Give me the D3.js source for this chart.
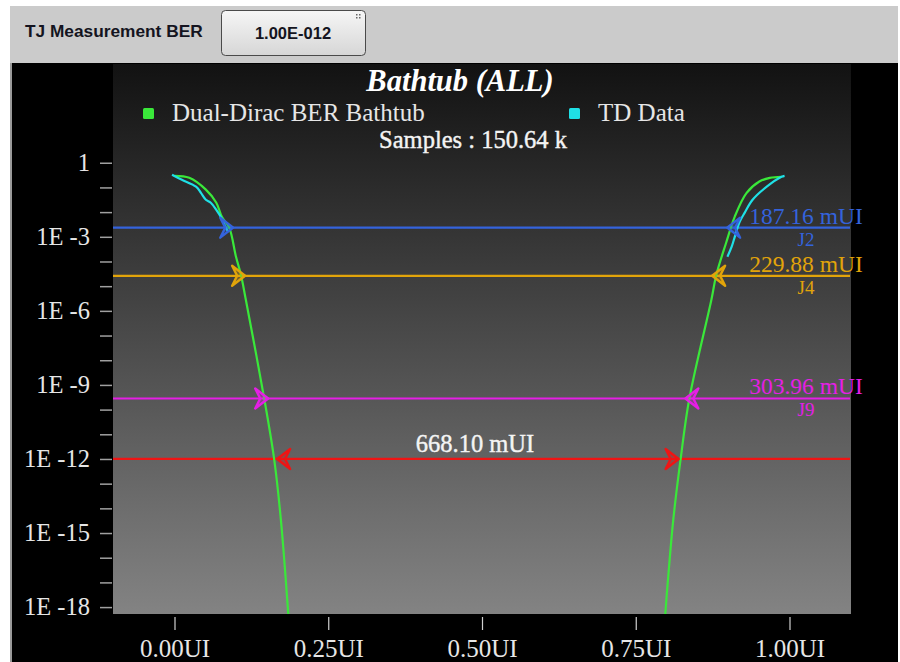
<!DOCTYPE html>
<html><head><meta charset="utf-8">
<script src="https://cdn.jsdelivr.net/npm/d3@7"></script>
<style>html,body{margin:0;padding:0;background:#fff;overflow:hidden}</style>
</head><body>
<svg id="c" width="900" height="662"></svg>
<script>
// ---------------- data ----------------
const xTickValues = [0, 0.25, 0.5, 0.75, 1.0];
const xTickLabels = ["0.00UI", "0.25UI", "0.50UI", "0.75UI", "1.00UI"];
const yMajorTicks = [0, -3, -6, -9, -12, -15, -18];
const yMajorLabels = ["1", "1E -3", "1E -6", "1E -9", "1E -12", "1E -15", "1E -18"];
const yMinorTicks = [-1, -2, -4, -5, -7, -8, -10, -11, -13, -14, -16, -17];

// [UI, log10(BER)]
const dualDiracLeft = [[0.000,-0.53],[0.024,-0.61],[0.051,-1.09],[0.068,-1.62],[0.077,-2.19],[0.089,-2.63],[0.100,-3.81],[0.108,-4.54],[0.116,-5.55],[0.146,-9.57],[0.162,-12.0],[0.173,-14.47],[0.185,-18.28]];
const dualDiracRight = [[0.987,-0.57],[0.968,-0.61],[0.951,-0.76],[0.930,-1.23],[0.911,-2.18],[0.897,-3.24],[0.881,-4.54],[0.873,-5.55],[0.837,-9.57],[0.823,-12.0],[0.811,-14.47],[0.798,-18.28]];
const tdLeft = [[-0.004,-0.49],[0.012,-0.69],[0.035,-0.97],[0.043,-1.22],[0.051,-1.50],[0.059,-1.62],[0.068,-1.91],[0.076,-2.23],[0.082,-2.55],[0.087,-2.80]];
const tdRight = [[0.992,-0.53],[0.987,-0.57],[0.963,-0.97],[0.940,-1.50],[0.927,-2.03],[0.919,-2.39],[0.911,-3.00],[0.906,-3.40],[0.899,-3.81]];

const levelNames = ["J2", "J4", "J9", ""];
const levelLogBER = [-2.63, -4.58, -9.55, -12.0];
const levelValues = ["187.16 mUI", "229.88 mUI", "303.96 mUI", "668.10 mUI"];
const levelColors = ["#3463dc", "#e2a40a", "#e51fe5", "#f01414"];

const legendNames = ["Dual-Dirac BER Bathtub", "TD Data"];
const titleText = "Bathtub (ALL)";
const samplesText = "Samples : 150.64 k";
const headerLabel = "TJ Measurement BER";
const headerValue = "1.00E-012";

// ---------------- drawing ----------------
const svg = d3.select("#c");
const serif = "'Liberation Serif','Times New Roman',serif";
const sans = "'Liberation Sans',Arial,sans-serif";

// header
svg.append("rect").attr("x", 10).attr("y", 6).attr("width", 888).attr("height", 58).attr("fill", "#cbcbcb");
svg.append("rect").attr("x", 10).attr("y", 63).attr("width", 888).attr("height", 599).attr("fill", "#000");
svg.append("rect").attr("x", 10).attr("y", 63).attr("width", 2).attr("height", 599).attr("fill", "#9a9a9a");
svg.append("text").attr("x", 25).attr("y", 37).attr("font-family", sans).attr("font-weight", "bold")
  .attr("font-size", 17.3).attr("fill", "#141420").text(headerLabel);

const defs = svg.append("defs");
const bg = defs.append("linearGradient").attr("id", "btn").attr("x1", 0).attr("y1", 0).attr("x2", 0).attr("y2", 1);
bg.append("stop").attr("offset", 0).attr("stop-color", "#f6f6f6");
bg.append("stop").attr("offset", 1).attr("stop-color", "#d6d6d6");
svg.append("rect").attr("x", 221.5).attr("y", 10.5).attr("width", 144).attr("height", 45).attr("rx", 4)
  .attr("fill", "url(#btn)").attr("stroke", "#4a4a4a").attr("stroke-width", 1);
svg.append("text").attr("x", 293).attr("y", 39).attr("text-anchor", "middle").attr("font-family", sans)
  .attr("font-weight", "bold").attr("font-size", 16.5).attr("fill", "#141420").text(headerValue);
[[356,14],[359,14],[356,17],[359,17]].forEach(p => svg.append("rect").attr("x", p[0]).attr("y", p[1]).attr("width", 1.5).attr("height", 1.5).attr("fill", "#666"));

// plot area
const plotL = 113, plotR = 851, plotT = 64, plotB = 614;
const x = d3.scaleLinear().domain([-0.1, 1.1]).range([plotL, plotR]);
const y = d3.scaleLinear().domain([4, -18.28]).range([plotT, plotB]);

const pg = defs.append("linearGradient").attr("id", "plotbg").attr("x1", 0).attr("y1", 0).attr("x2", 0).attr("y2", 1);
pg.append("stop").attr("offset", 0).attr("stop-color", "#121212");
pg.append("stop").attr("offset", 1).attr("stop-color", "#838383");
svg.append("rect").attr("x", plotL).attr("y", plotT).attr("width", plotR - plotL).attr("height", plotB - plotT)
  .attr("fill", "url(#plotbg)");

// y axis
const yAxis = d3.axisLeft(y).tickValues(yMajorTicks.concat(yMinorTicks)).tickSize(12).tickPadding(10)
  .tickFormat(d => { const i = yMajorTicks.indexOf(d); return i >= 0 ? yMajorLabels[i] : ""; });
const gy = svg.append("g").attr("transform", `translate(${plotL - 1},0)`).call(yAxis);
gy.select(".domain").remove();
gy.selectAll(".tick line").attr("stroke", "#a0a0a0").attr("stroke-width", 1.5);
gy.selectAll(".tick text").attr("font-family", serif).attr("font-size", 24.5).attr("fill", "#e6e6e6");

// x axis
const xAxis = d3.axisBottom(x).tickValues(xTickValues).tickSize(13).tickPadding(9)
  .tickFormat((d, i) => xTickLabels[i]);
const gx = svg.append("g").attr("transform", `translate(0,${plotB + 3})`).call(xAxis);
gx.select(".domain").remove();
gx.selectAll(".tick line").attr("stroke", "#d0d0d0").attr("stroke-width", 1.2);
gx.selectAll(".tick text").attr("font-family", serif).attr("font-size", 25).attr("fill", "#e6e6e6");

// title & legend
svg.append("text").attr("x", 460).attr("y", 91).attr("text-anchor", "middle").attr("font-family", serif)
  .attr("font-weight", "bold").attr("font-style", "italic").attr("font-size", 30.5).attr("fill", "#fff").text(titleText);
const legendColors = ["#3ae83a", "#1fe0e6"];
const legendX = [143, 569];
legendNames.forEach((n, i) => {
  svg.append("rect").attr("x", legendX[i]).attr("y", 108).attr("width", 11).attr("height", 11).attr("rx", 1.5).attr("fill", legendColors[i]);
  svg.append("text").attr("x", legendX[i] + 29).attr("y", 121).attr("font-family", serif).attr("font-size", 25)
    .attr("fill", "#e6e6e6").text(n);
});
svg.append("text").attr("x", 473).attr("y", 148).attr("text-anchor", "middle").attr("font-family", serif)
  .attr("font-size", 24.5).attr("fill", "#f4f4f4").attr("stroke", "#f4f4f4").attr("stroke-width", 0.4).text(samplesText);

// level lines
levelLogBER.forEach((v, i) => {
  svg.append("line").attr("x1", plotL).attr("x2", plotR - 1).attr("y1", y(v)).attr("y2", y(v))
    .attr("stroke", levelColors[i]).attr("stroke-width", 2.2);
});

// curves
const line = d3.line().x(d => x(d[0])).y(d => y(d[1])).curve(d3.curveCatmullRom.alpha(0.5));
[[dualDiracLeft, "#3ae83a"], [dualDiracRight, "#3ae83a"], [tdLeft, "#1fe0e6"], [tdRight, "#1fe0e6"]].forEach(c => {
  svg.append("path").attr("d", line(c[0])).attr("fill", "none").attr("stroke", c[1]).attr("stroke-width", 2.2);
});

// crossings
function crossAt(curve, L) {
  for (let i = 0; i < curve.length - 1; i++) {
    const a = curve[i], b = curve[i + 1];
    if ((a[1] - L) * (b[1] - L) <= 0) {
      const t = (L - a[1]) / (b[1] - a[1]);
      return a[0] + t * (b[0] - a[0]);
    }
  }
  return null;
}
const arrowPath = "M0,0 L-13,-10 L-8,0 L-13,10 Z";
function arrow(px, py, dir, color) {
  svg.append("path").attr("d", arrowPath)
    .attr("transform", `translate(${px},${py}) scale(${dir},1)`)
    .attr("fill", color).attr("fill-opacity", 0.35).attr("stroke", color).attr("stroke-width", 2.4)
    .attr("stroke-linejoin", "round");
}
levelLogBER.forEach((v, i) => {
  const xl = x(crossAt(dualDiracLeft, v));
  const xr = x(crossAt(dualDiracRight, v));
  const yy = y(v);
  if (i < 3) {
    arrow(xl + 4, yy, 1, levelColors[i]);
    arrow(xr - 4, yy, -1, levelColors[i]);
    svg.append("text").attr("x", 806).attr("y", yy - 4).attr("text-anchor", "middle").attr("font-family", serif)
      .attr("font-size", 23.5).attr("fill", levelColors[i]).text(levelValues[i]);
    svg.append("text").attr("x", 806).attr("y", yy + 18).attr("text-anchor", "middle").attr("font-family", serif)
      .attr("font-size", 19).attr("fill", levelColors[i]).text(levelNames[i]);
  } else {
    arrow(xl + 3, yy, -1, levelColors[i]);
    arrow(xr - 2, yy, 1, levelColors[i]);
    svg.append("text").attr("x", 475).attr("y", yy - 7).attr("text-anchor", "middle").attr("font-family", serif)
      .attr("font-size", 24.5).attr("fill", "#f4f4f4").attr("stroke", "#f4f4f4").attr("stroke-width", 0.4).text(levelValues[i]);
  }
});
</script>
</body></html>
